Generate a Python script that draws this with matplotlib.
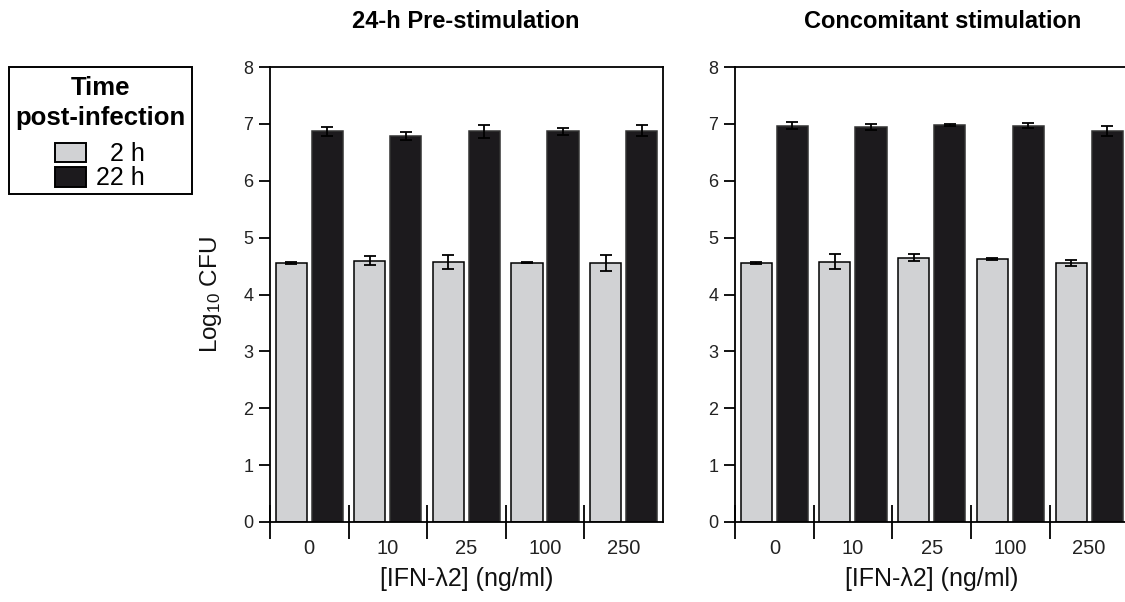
import matplotlib
matplotlib.use("Agg")
import matplotlib.pyplot as plt
from matplotlib.ticker import FixedLocator, NullFormatter, FixedFormatter
from matplotlib.patches import Rectangle
import numpy as np

plt.rcParams['font.family'] = ['Liberation Sans', 'DejaVu Sans']
plt.rcParams['mathtext.default'] = 'regular'

# ---- data ----
doses = ["0", "10", "25", "100", "250"]
series = ["2 h", "22 h"]
pre_2h = [4.56, 4.59, 4.57, 4.56, 4.55]
pre_2h_err = [0.02, 0.08, 0.13, 0.01, 0.14]
pre_22h = [6.87, 6.79, 6.87, 6.87, 6.88]
pre_22h_err = [0.08, 0.07, 0.11, 0.06, 0.10]
con_2h = [4.56, 4.58, 4.65, 4.62, 4.56]
con_2h_err = [0.02, 0.13, 0.065, 0.015, 0.055]
con_22h = [6.97, 6.94, 6.98, 6.97, 6.88]
con_22h_err = [0.06, 0.055, 0.02, 0.045, 0.09]
titles = ["24-h Pre-stimulation", "Concomitant stimulation"]
legend_title = ["Time", "post-infection"]
yticks = [0, 1, 2, 3, 4, 5, 6, 7, 8]

light = "#d1d2d4"
dark = "#1c1a1d"
colors = [light, dark]

W, H = 1125, 602
fig = plt.figure(figsize=(W / 100, H / 100), dpi=100)

def fx(x):
    return x / W

def fy(y):
    return 1 - y / H

def px_axes(x0, x1, ytop, ybot):
    return fig.add_axes([x0 / W, 1 - ybot / H, (x1 - x0) / W, (ybot - ytop) / H])

ax1 = px_axes(270, 663, 67, 522)
ax2 = px_axes(735, 1128.5, 67, 522)

bw = 0.395
off = [0.27, 0.728]
lw_px = 1.1

for ax, v2, e2, v22, e22, title, tx in [
        (ax1, pre_2h, pre_2h_err, pre_22h, pre_22h_err, titles[0], 466),
        (ax2, con_2h, con_2h_err, con_22h, con_22h_err, titles[1], 943)]:
    idx = np.arange(len(doses))
    ek = dict(ecolor="black", elinewidth=1.3, capsize=4.5, capthick=1.3)
    ax.bar(idx + off[0], v2, bw, yerr=e2, color=colors[0], edgecolor="black",
           linewidth=lw_px, error_kw=ek, label=series[0])
    ax.bar(idx + off[1], v22, bw, yerr=e22, color=colors[1], edgecolor="#333333",
           linewidth=lw_px, error_kw=ek, label=series[1])
    ax.set_xlim(0, 5)
    ax.set_ylim(0, 8)
    ax.set_yticks(yticks)
    ax.set_yticklabels([str(t) for t in yticks])
    ax.xaxis.set_major_locator(FixedLocator([0, 1, 2, 3, 4]))
    ax.xaxis.set_major_formatter(NullFormatter())
    ax.xaxis.set_minor_locator(FixedLocator(idx + 0.5))
    ax.xaxis.set_minor_formatter(FixedFormatter(doses))
    ax.tick_params(axis="x", which="major", direction="inout", length=25, width=1.3, color="black")
    ax.tick_params(axis="x", which="minor", length=0, pad=12, labelsize=14.5, labelcolor="#222222")
    ax.tick_params(axis="y", direction="out", length=8, width=1.3, pad=4, labelsize=13,
                   labelcolor="#222222")
    for s in ax.spines.values():
        s.set_linewidth(1.3)
    ax.set_xlabel("[IFN-\u03bb2] (ng/ml)", fontsize=18, labelpad=7, color="#111111")
    fig.text(fx(tx), fy(22), title, ha="center", va="center", fontsize=17,
             fontweight="bold")

ax1.set_ylabel("Log$_{10}$ CFU", fontsize=17.5, color="#111111")
ax1.yaxis.set_label_coords(-0.118, 0.5)

# ---- legend box (figure pixel layout) ----
fig.patches.append(Rectangle((fx(9), fy(194)), fx(192) - fx(9), fy(67) - fy(194),
                             transform=fig.transFigure, facecolor="white",
                             edgecolor="black", linewidth=1.4, zorder=5))
fig.text(fx(100.5), fy(95), legend_title[0], ha="center", va="baseline",
         fontsize=18.5, fontweight="bold", zorder=6)
fig.text(fx(100.5), fy(125), legend_title[1], ha="center", va="baseline",
         fontsize=18.5, fontweight="bold", zorder=6)
for i, (lab, col) in enumerate(zip(series, colors)):
    top = [143, 167][i]
    bot = [162, 187][i]
    base = [161, 185][i]
    fig.patches.append(Rectangle((fx(55), fy(bot)), fx(86) - fx(55), fy(top) - fy(bot),
                                 transform=fig.transFigure, facecolor=col,
                                 edgecolor="black", linewidth=1.4, zorder=6))
    fig.text(fx(145), fy(base), lab, ha="right", va="baseline", fontsize=18, zorder=6)

fig.savefig("out.png", dpi=100)
